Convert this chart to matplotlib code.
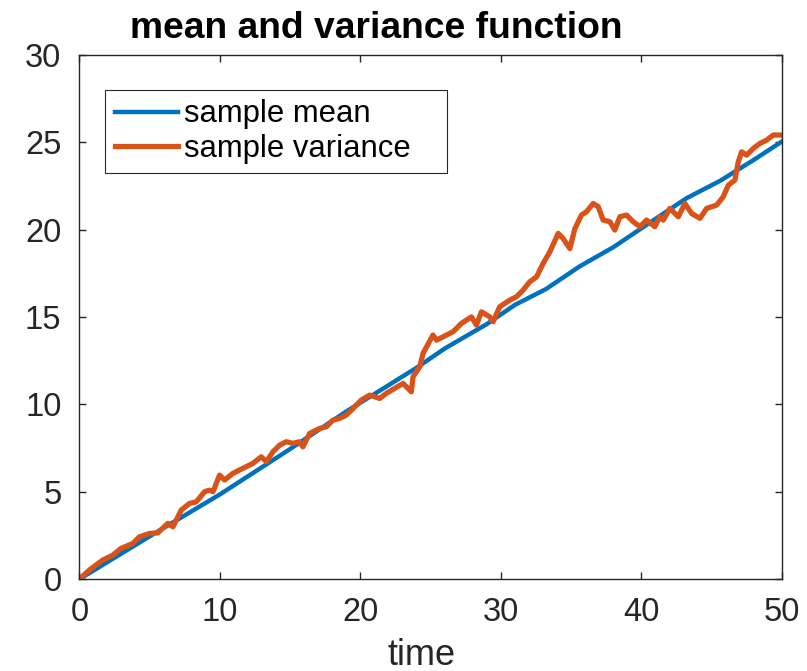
import matplotlib
matplotlib.use("Agg")
import matplotlib.pyplot as plt

# values
t_mean = [0, 5, 10, 15, 19, 21.4, 24, 26, 29, 31, 33.2, 35.6, 38, 40.4, 43.2, 45.6, 48, 50]
sample_mean = [0, 2.45, 4.85, 7.45, 9.6, 10.8, 12.1, 13.2, 14.6, 15.7, 16.6, 17.9, 19.0, 20.3, 21.8, 22.8, 24.0, 25.05]

t_var = [0, 0.71, 1.66, 2.37, 2.97, 3.8, 4.27, 4.99, 5.58, 6.29, 6.65, 7.24, 7.83, 8.31, 8.9,
         9.26, 9.5, 9.97, 10.33, 10.92, 11.63, 12.34, 12.94, 13.3, 13.77, 14.25, 14.72, 15.19,
         15.67, 15.9, 16.38, 17.09, 17.57, 18.04, 18.52, 18.99, 19.35, 20.06, 20.66, 21.37,
         21.84, 22.44, 23.03, 23.62, 23.74, 24.22, 24.45, 25.16, 25.41, 25.88, 26.59, 27.19,
         27.9, 28.25, 28.61, 29.2, 29.44, 29.91, 30.63, 31.1, 31.57, 32.05, 32.53, 33.0, 33.48,
         34.07, 34.42, 34.9, 35.26, 35.73, 36.09, 36.56, 36.92, 37.27, 37.75, 38.1, 38.46,
         38.94, 39.41, 39.89, 40.36, 40.95, 41.31, 41.55, 42.02, 42.62, 43.09, 43.57, 44.16,
         44.64, 45.35, 45.82, 46.18, 46.65, 46.89, 47.13, 47.48, 47.96, 48.43, 48.91, 49.38, 50]
sample_var = [0, 0.52, 1.09, 1.37, 1.76, 2.04, 2.42, 2.61, 2.65, 3.19, 2.99, 3.95, 4.33, 4.42, 5.0,
              5.09, 5.0, 5.95, 5.67, 6.05, 6.34, 6.62, 7.0, 6.72, 7.29, 7.67, 7.86, 7.77,
              7.86, 7.57, 8.34, 8.62, 8.72, 9.1, 9.2, 9.39, 9.67, 10.25, 10.53, 10.34,
              10.63, 10.92, 11.2, 10.72, 11.58, 12.15, 12.92, 13.97, 13.68, 13.87, 14.16, 14.64,
              15.01, 14.54, 15.3, 15.01, 14.73, 15.59, 15.97, 16.16, 16.54, 17.02, 17.3, 18.07, 18.74,
              19.79, 19.5, 18.92, 20.06, 20.84, 21.03, 21.5, 21.32, 20.55, 20.46, 19.98, 20.74,
              20.84, 20.46, 20.17, 20.55, 20.17, 20.74, 20.55, 21.22, 20.74, 21.5, 20.93, 20.65,
              21.22, 21.41, 21.89, 22.55, 22.84, 23.89, 24.46, 24.27, 24.65, 24.94, 25.13, 25.42, 25.42]

x_ticks = [0, 10, 20, 30, 40, 50]
y_ticks = [0, 5, 10, 15, 20, 25, 30]

plt.rcParams['font.family'] = ['Liberation Sans', 'DejaVu Sans']

fig = plt.figure(figsize=(8.07, 6.71), dpi=100)
ax = fig.add_axes([0.0985, 0.137, 0.8705, 0.781])

ax.plot(t_mean, sample_mean, color="#0072BD", linewidth=3.2, label="sample mean")
ax.plot(t_var, sample_var, color="#D95319", linewidth=3.8, label="sample variance")

ax.set_xlim(0, 50)
ax.set_ylim(0, 30)
ax.set_xticks(x_ticks)
ax.set_yticks(y_ticks)
ax.tick_params(direction="in", length=5, width=1, colors="#262626",
               labelsize=23.5, top=True, right=True, pad=13)
for s in ax.spines.values():
    s.set_color("#262626")
    s.set_linewidth(1)

ax.set_xlabel("time", fontsize=26, color="#262626")
ax.xaxis.set_label_coords(0.487, -0.112)

ax.text(0.423, 1.032, "mean and variance function", transform=ax.transAxes,
        ha="center", va="baseline", fontsize=26.8, fontweight="bold")

# legend box stretched to the reference width
leg = ax.legend(loc="upper left", bbox_to_anchor=(0.037, 0.775, 0.486, 0.158),
                mode="expand", borderaxespad=0,
                fontsize=22.3, fancybox=False, framealpha=1, handlelength=2.05,
                handletextpad=0.2, borderpad=0.3, labelspacing=0.15)
leg.get_frame().set_edgecolor("#262626")
leg.get_frame().set_linewidth(0.8)

fig.savefig("out.png", dpi=100)
